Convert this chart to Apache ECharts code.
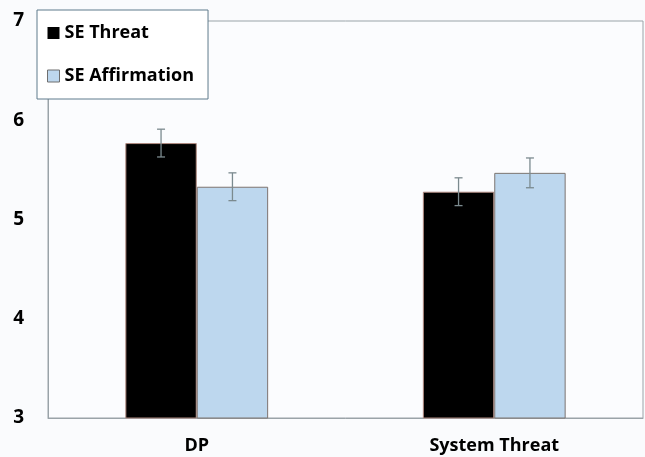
<!DOCTYPE html>
<html>
<head>
<meta charset="utf-8">
<script src="https://cdn.jsdelivr.net/npm/echarts@6/dist/echarts.min.js"></script>
<style>
  html, body { margin: 0; padding: 0; background: #fafbfd; }
  #chart { width: 645px; height: 457px; }
</style>
</head>
<body>
<div id="chart"></div>
<script>
var categories = ['DP', 'System Threat']
var threat = [5.77, 5.28]
var affirm = [5.33, 5.47]
var threatErr = [0.14, 0.14]
var affirmErr = [0.14, 0.15]

var BAR_PCT = 0.24

function errData(vals, errs) {
  return vals.map(function(v, i) {
    return [i, v - errs[i], v + errs[i]]
  })
}

function errRenderer(side) {
  return function(params, api) {
    var band = api.size([1, 0])[0]
    var dx = side * band * BAR_PCT / 2
    var lo = api.coord([api.value(0), api.value(1)])
    var hi = api.coord([api.value(0), api.value(2)])
    var x = lo[0] + dx
    var cap = 4
    var style = { stroke: '#7b8a8f', lineWidth: 1.3 }
    return {
      type: 'group',
      children: [
        { type: 'line', shape: { x1: x, y1: hi[1], x2: x, y2: lo[1] }, style: style },
        { type: 'line', shape: { x1: x - cap, y1: hi[1], x2: x + cap, y2: hi[1] }, style: style },
        { type: 'line', shape: { x1: x - cap, y1: lo[1], x2: x + cap, y2: lo[1] }, style: style }
      ]
    }
  }
}

var chart = echarts.init(document.getElementById('chart'))
chart.setOption({
  backgroundColor: '#fafbfd',
  animation: false,
  textStyle: { fontFamily: 'Open Sans' },
  legend: {
    orient: 'vertical',
    left: 37,
    top: 10,
    padding: [12, 14, 12, 10],
    itemGap: 21,
    backgroundColor: '#ffffff',
    borderColor: '#5f7b8c',
    borderWidth: 1,
    icon: 'rect',
    itemWidth: 12,
    itemHeight: 12,
    textStyle: { fontSize: 18, fontWeight: 'bold', color: '#000', lineHeight: 22 },
    data: [
      { name: 'SE Threat', itemStyle: { borderWidth: 0 } },
      { name: 'SE Affirmation', itemStyle: { borderColor: '#6f6f6f', borderWidth: 1 } }
    ]
  },
  grid: {
    left: 48,
    right: 2,
    top: 21,
    bottom: 39,
    show: true,
    borderColor: '#9aa3a8',
    borderWidth: 1,
    backgroundColor: '#fbfcfe'
  },
  xAxis: {
    type: 'category',
    data: categories,
    axisTick: { show: false },
    axisLine: { lineStyle: { color: '#9aa3a8' } },
    axisLabel: { fontSize: 18, fontWeight: 'bold', color: '#000', margin: 19 }
  },
  yAxis: {
    type: 'value',
    min: 3,
    max: 7,
    interval: 1,
    splitLine: { show: false },
    axisLine: { show: true, lineStyle: { color: '#9aa3a8' } },
    axisTick: { show: false },
    axisLabel: { fontSize: 19, fontWeight: 'bold', color: '#000', margin: 24 }
  },
  series: [
    {
      name: 'SE Threat',
      type: 'bar',
      barWidth: '24%',
      barGap: '0%',
      itemStyle: { color: '#000000', borderColor: '#b08a80', borderWidth: 1 },
      data: threat
    },
    {
      name: 'SE Affirmation',
      type: 'bar',
      barWidth: '24%',
      itemStyle: { color: '#bdd7ee', borderColor: '#7d7470', borderWidth: 1 },
      data: affirm
    },
    {
      type: 'custom',
      renderItem: errRenderer(-1),
      encode: { x: 0, y: [1, 2] },
      data: errData(threat, threatErr),
      z: 10
    },
    {
      type: 'custom',
      renderItem: errRenderer(1),
      encode: { x: 0, y: [1, 2] },
      data: errData(affirm, affirmErr),
      z: 10
    }
  ]
})
</script>
</body>
</html>
